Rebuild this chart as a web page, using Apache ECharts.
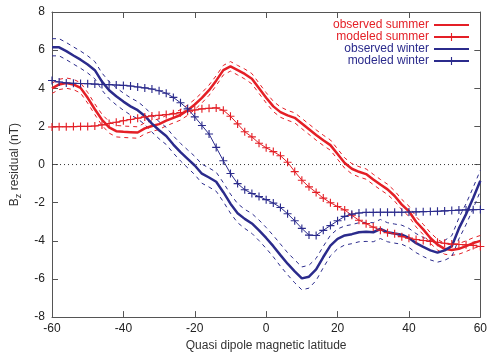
<!DOCTYPE html>
<html>
<head>
<meta charset="utf-8">
<script src="https://cdn.jsdelivr.net/npm/echarts@6/dist/echarts.min.js"></script>
<style>html,body{margin:0;padding:0;background:#fff}#c{width:490px;height:357px}</style>
</head>
<body>
<div id="c"></div>
<script>
// Latitude grid (every 2 degrees)
var lat = [-60,-58,-56,-54,-52,-50,-48,-46,-44,-42,-40,-38,-36,-34,-32,-30,-28,-26,-24,-22,-20,-18,-16,-14,-12,-10,-8,-6,-4,-2,0,2,4,6,8,10,12,14,16,18,20,22,24,26,28,30,32,34,36,38,40,42,44,46,48,50,52,54,56,58,60];

var observedSummer = [4.0,4.2,4.27,4.2,4.02,3.5,2.9,2.35,1.95,1.75,1.72,1.70,1.68,1.9,2.02,2.12,2.3,2.45,2.6,2.85,3.15,3.5,3.9,4.4,4.95,5.15,4.95,4.75,4.5,4.0,3.5,3.05,2.75,2.58,2.45,2.15,1.85,1.55,1.27,1.02,0.55,0.08,-0.22,-0.38,-0.5,-0.78,-1.05,-1.3,-1.65,-2.1,-2.45,-3.0,-3.4,-3.85,-4.2,-4.42,-4.48,-4.42,-4.28,-4.12,-4.0];
var errSummer = [0.27,0.27,0.27,0.27,0.27,0.28,0.28,0.29,0.3,0.3,0.3,0.3,0.3,0.29,0.28,0.28,0.27,0.27,0.27,0.27,0.27,0.27,0.27,0.26,0.25,0.25,0.25,0.26,0.27,0.27,0.27,0.27,0.27,0.26,0.26,0.27,0.27,0.27,0.27,0.27,0.27,0.27,0.27,0.27,0.27,0.27,0.27,0.27,0.27,0.27,0.27,0.27,0.27,0.28,0.28,0.28,0.28,0.28,0.28,0.28,0.28];
var modeledSummer = [1.97,1.98,1.98,1.99,2.0,2.0,2.02,2.08,2.15,2.22,2.3,2.36,2.43,2.5,2.55,2.58,2.62,2.66,2.72,2.8,2.86,2.92,2.95,2.97,2.85,2.53,2.13,1.72,1.45,1.12,0.88,0.68,0.46,0.12,-0.37,-0.82,-1.17,-1.46,-1.76,-2.0,-2.2,-2.38,-2.66,-2.92,-3.1,-3.28,-3.44,-3.57,-3.63,-3.78,-3.86,-3.93,-3.98,-4.03,-4.08,-4.13,-4.17,-4.19,-4.21,-4.24,-4.3];

var observedWinter = [6.15,6.15,5.95,5.72,5.5,5.25,4.95,4.35,3.9,3.58,3.3,3.05,2.85,2.55,2.15,1.8,1.5,1.05,0.65,0.3,-0.05,-0.48,-0.68,-0.9,-1.45,-2.05,-2.55,-2.85,-3.09,-3.45,-3.85,-4.28,-4.75,-5.2,-5.6,-5.97,-5.88,-5.5,-4.85,-4.25,-3.9,-3.72,-3.65,-3.55,-3.53,-3.55,-3.38,-3.55,-3.62,-3.68,-3.85,-4.12,-4.32,-4.5,-4.62,-4.5,-4.28,-3.35,-2.6,-1.75,-0.85];
var errWinter = [0.45,0.45,0.45,0.45,0.45,0.45,0.45,0.45,0.45,0.45,0.45,0.45,0.45,0.45,0.45,0.45,0.45,0.45,0.46,0.47,0.48,0.5,0.5,0.5,0.5,0.5,0.5,0.5,0.52,0.54,0.55,0.56,0.58,0.58,0.6,0.6,0.6,0.58,0.56,0.54,0.52,0.5,0.5,0.5,0.5,0.5,0.5,0.5,0.5,0.5,0.5,0.5,0.5,0.5,0.5,0.52,0.55,0.55,0.55,0.55,0.55];
var modeledWinter = [4.41,4.33,4.28,4.26,4.25,4.24,4.22,4.2,4.19,4.17,4.15,4.12,4.07,4.02,3.96,3.87,3.74,3.52,3.24,2.92,2.5,2.05,1.6,0.9,0.2,-0.47,-1.0,-1.32,-1.52,-1.68,-1.84,-2.02,-2.25,-2.58,-2.95,-3.35,-3.7,-3.72,-3.45,-3.2,-2.95,-2.72,-2.6,-2.54,-2.51,-2.51,-2.5,-2.5,-2.5,-2.5,-2.49,-2.48,-2.47,-2.46,-2.45,-2.43,-2.41,-2.39,-2.38,-2.37,-2.36];

var xTicks = {min: -60, max: 60, interval: 20};
var yTicks = {min: -8, max: 8, interval: 2};
var zeroLine = [[-60, 0], [60, 0]];

var RED = '#e41f26', BLUE = '#2b2b8c';
var FONT = '"Liberation Sans", Arial, Helvetica, sans-serif';
var PLUS = 'path://M-0.14,-1H0.14V-0.14H1V0.14H0.14V1H-0.14V0.14H-1V-0.14H-0.14Z';

function pairs(xs, ys) { return xs.map(function (x, i) { return [x, ys[i]]; }); }
function band(ys, es, s) { return lat.map(function (x, i) { return [x, ys[i] + s * es[i]]; }); }

function dashed(data, color) {
  return {type: 'line', data: data, symbol: 'none', silent: true,
    lineStyle: {color: color, width: 1, type: [4, 4]}, z: 2};
}

var chart = echarts.init(document.getElementById('c'), null, {renderer: 'canvas'});
var axisLine = {show: true, onZero: false, lineStyle: {color: '#555', width: 1}};
var axisTick = {show: true, inside: true, length: 6, lineStyle: {color: '#555', width: 1}};
chart.setOption({
  animation: false,
  textStyle: {fontFamily: FONT},
  grid: {left: 52, right: 6, top: 12, bottom: 39},
  legend: {
    orient: 'vertical', right: 15, top: 14, align: 'right',
    itemWidth: 35, itemHeight: 10, itemGap: 0,
    textStyle: {fontSize: 12, fontFamily: FONT, lineHeight: 12},
    data: [
      {name: 'observed summer', textStyle: {color: RED}, itemStyle: {opacity: 0}},
      {name: 'modeled summer', textStyle: {color: RED}},
      {name: 'observed winter', textStyle: {color: BLUE}, itemStyle: {opacity: 0}},
      {name: 'modeled winter', textStyle: {color: BLUE}}
    ]
  },
  xAxis: [
    {type: 'value', position: 'bottom', min: xTicks.min, max: xTicks.max, interval: xTicks.interval,
      name: 'Quasi dipole magnetic latitude', nameLocation: 'middle', nameGap: 22,
      nameTextStyle: {fontSize: 12, color: '#333', fontFamily: FONT},
      axisLine: axisLine, axisTick: axisTick, splitLine: {show: false},
      axisLabel: {fontSize: 12, color: '#222', margin: 6, fontFamily: FONT}},
    {type: 'value', position: 'top', min: xTicks.min, max: xTicks.max, interval: xTicks.interval,
      axisLine: axisLine, axisTick: axisTick, splitLine: {show: false}, axisLabel: {show: false}}
  ],
  yAxis: [
    {type: 'value', position: 'left', min: yTicks.min, max: yTicks.max, interval: yTicks.interval,
      name: '{b|B}{s|z}{r| residual (nT)}', nameLocation: 'middle', nameGap: 28,
      nameTextStyle: {fontSize: 12, color: '#333', fontFamily: FONT,
        rich: {b: {fontSize: 12, lineHeight: 18, verticalAlign: 'middle', fontFamily: FONT, color: '#333'},
               s: {fontSize: 9, lineHeight: 9, verticalAlign: 'bottom', fontFamily: FONT, color: '#333'},
               r: {fontSize: 12, lineHeight: 18, verticalAlign: 'middle', fontFamily: FONT, color: '#333'}}},
      axisLine: axisLine, axisTick: axisTick, splitLine: {show: false},
      axisLabel: {fontSize: 12, color: '#222', margin: 7, fontFamily: FONT}},
    {type: 'value', position: 'right', min: yTicks.min, max: yTicks.max, interval: yTicks.interval,
      axisLine: axisLine, axisTick: axisTick, splitLine: {show: false}, axisLabel: {show: false}}
  ],
  series: [
    {type: 'line', data: zeroLine, symbol: 'none', silent: true,
      lineStyle: {color: '#333', width: 1, type: [1, 3]}, z: 1},
    dashed(band(observedSummer, errSummer, 1), RED),
    dashed(band(observedSummer, errSummer, -1), RED),
    dashed(band(observedWinter, errWinter, 1), BLUE),
    dashed(band(observedWinter, errWinter, -1), BLUE),
    {name: 'observed summer', type: 'line', data: pairs(lat, observedSummer), symbol: 'none',
      lineStyle: {color: RED, width: 2.5}, itemStyle: {color: RED}, z: 4},
    {name: 'modeled summer', type: 'line', data: pairs(lat, modeledSummer), symbol: PLUS, symbolSize: 8,
      lineStyle: {color: RED, width: 1}, itemStyle: {color: RED, borderWidth: 0}, z: 4},
    {name: 'observed winter', type: 'line', data: pairs(lat, observedWinter), symbol: 'none',
      lineStyle: {color: BLUE, width: 2.5}, itemStyle: {color: BLUE}, z: 4},
    {name: 'modeled winter', type: 'line', data: pairs(lat, modeledWinter), symbol: PLUS, symbolSize: 8,
      lineStyle: {color: BLUE, width: 1}, itemStyle: {color: BLUE, borderWidth: 0}, z: 4}
  ]
});
</script>
</body>
</html>
